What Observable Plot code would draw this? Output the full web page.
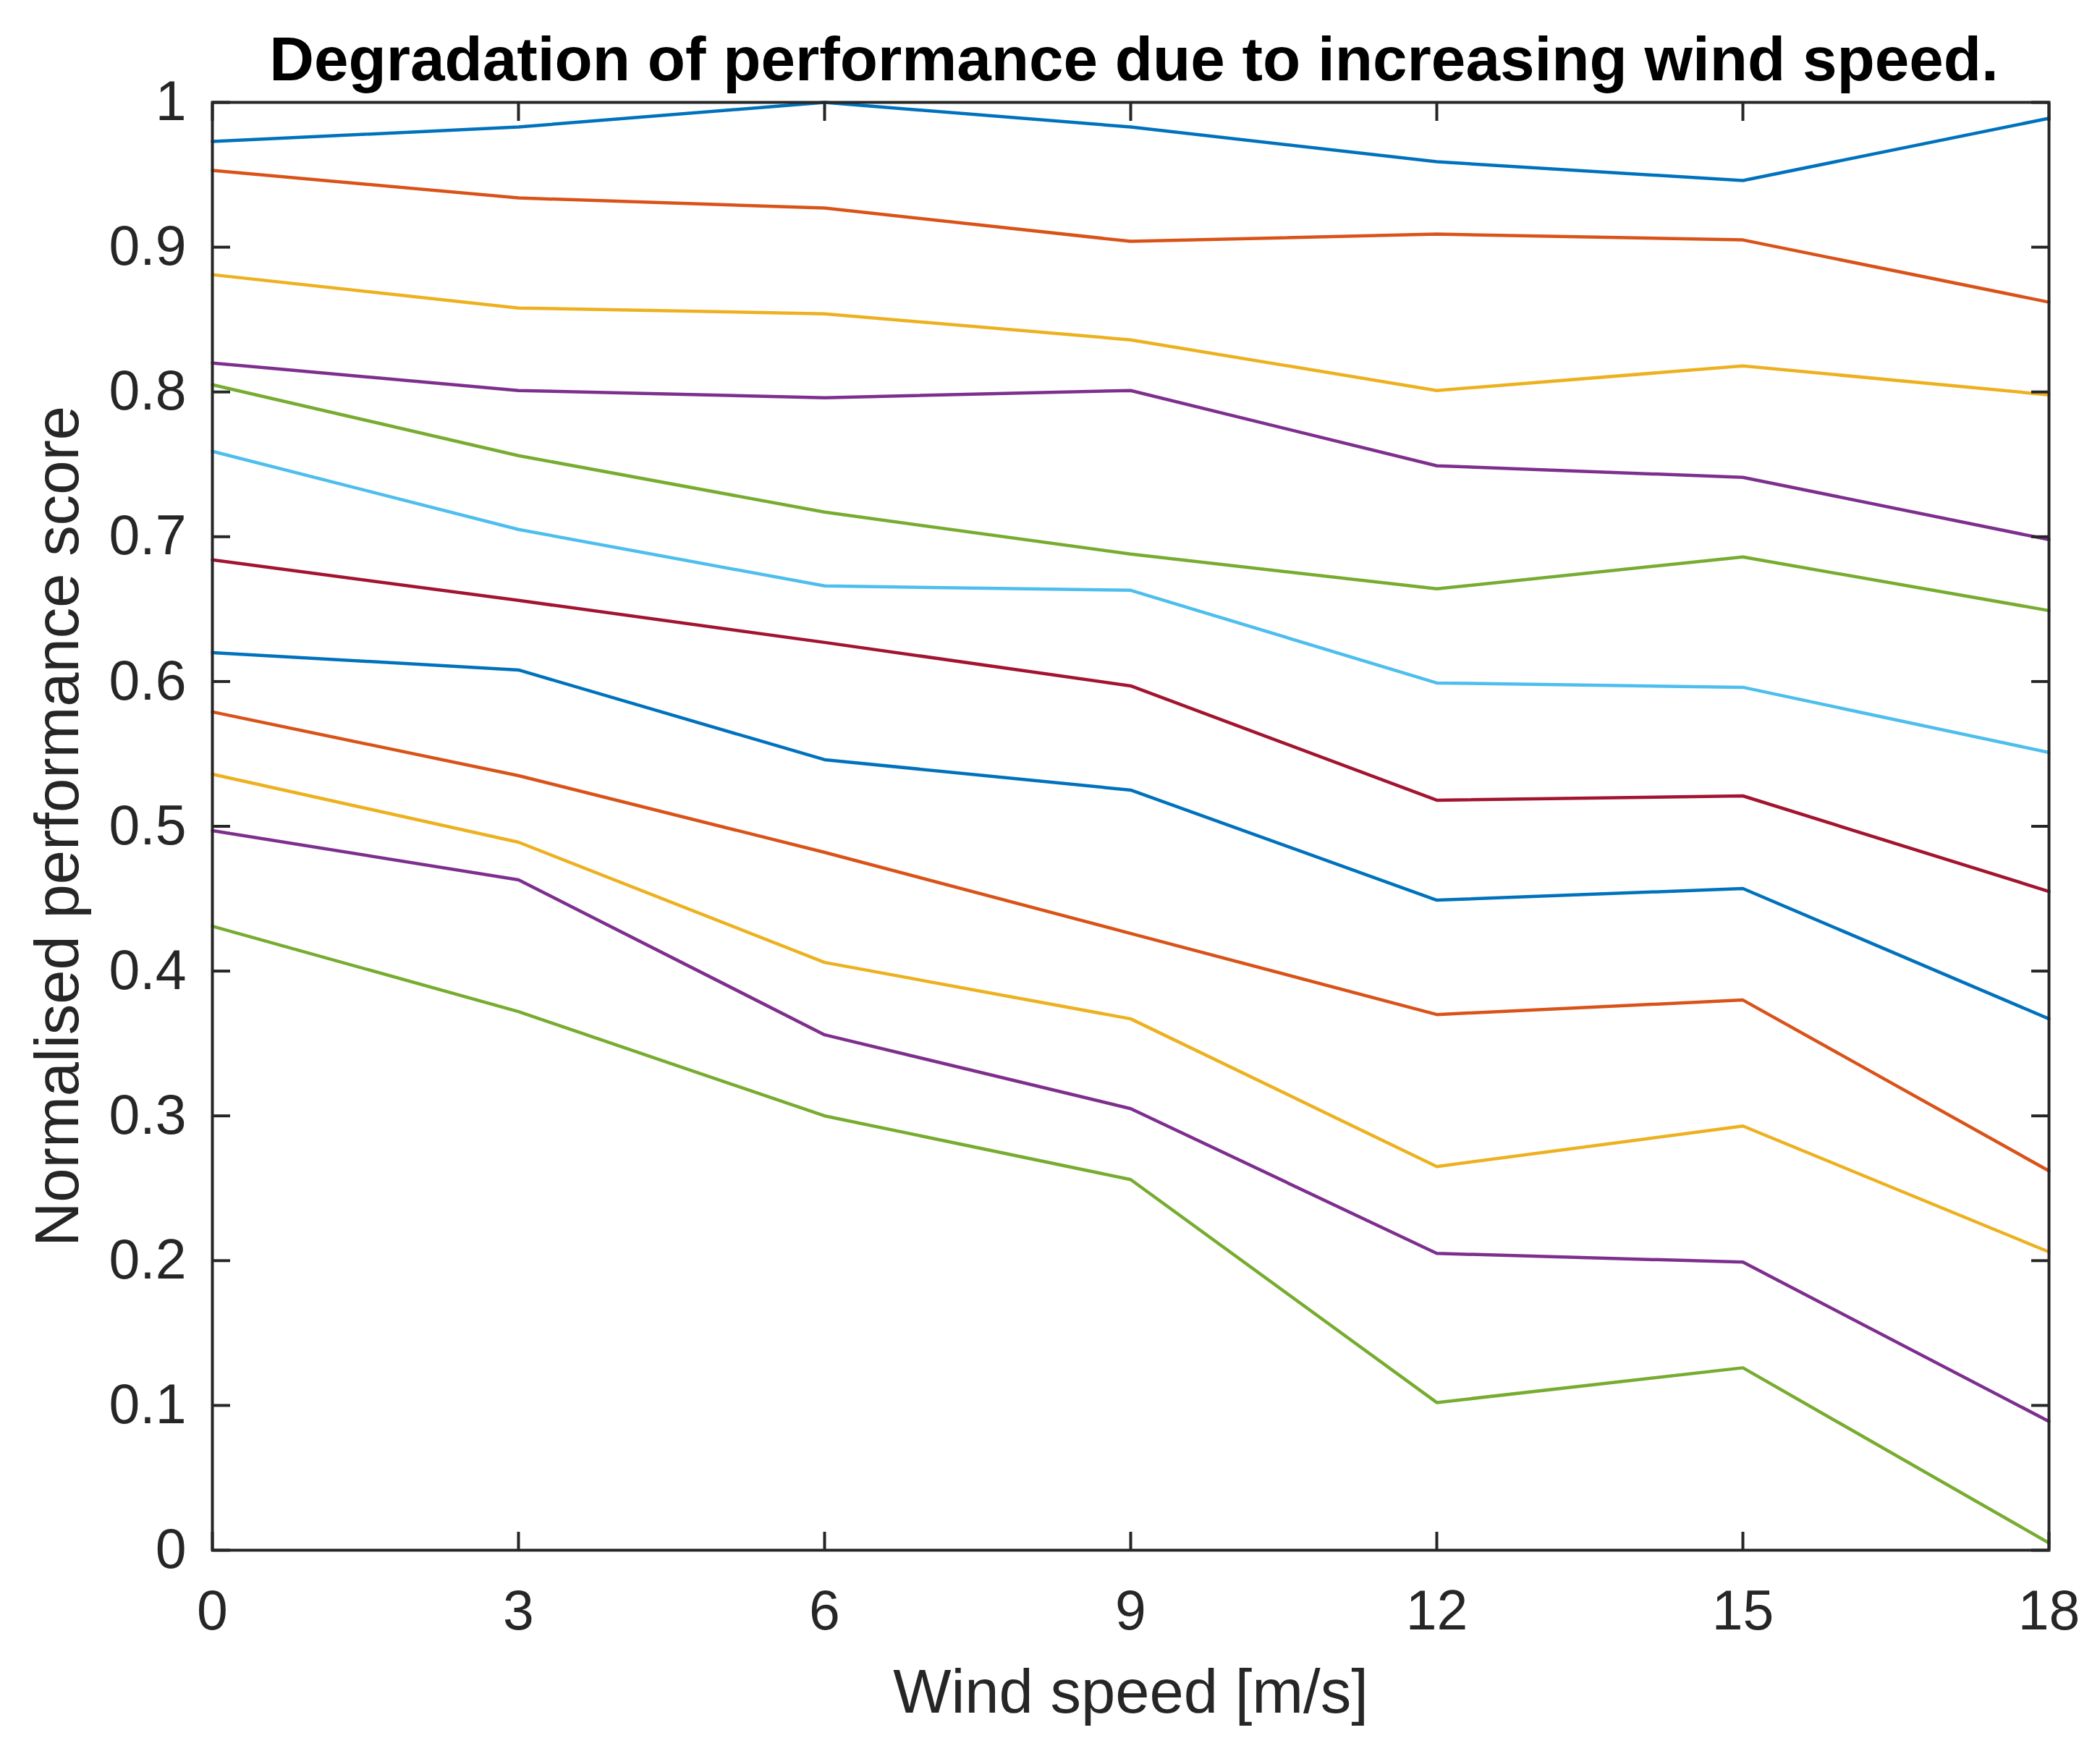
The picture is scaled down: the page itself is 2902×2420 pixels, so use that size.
<!DOCTYPE html>
<html>
<head>
<meta charset="utf-8">
<script src="https://cdn.jsdelivr.net/npm/d3@7"></script>
<script src="https://cdn.jsdelivr.net/npm/@observablehq/plot@0.6"></script>
<style>
  body { margin: 0; background: #fff; font-family: "Liberation Sans", Arial, sans-serif; }
  #title {
    box-sizing: border-box;
    width: 2902px;
    height: 60px;
    padding-top: 39px;
    padding-left: 232px;
    text-align: center;
    font-size: 85.5px;
    line-height: 86px;
    font-weight: bold;
    color: #000;
    white-space: nowrap;
    position: relative;
    z-index: 1;
  }
</style>
</head>
<body>
<div id="title">Degradation of performance due to increasing wind speed.</div>
<div id="chart"></div>
<script>
// wind speeds on the x axis
const windSpeed = [0, 3, 6, 9, 12, 15, 18]

// normalised score, one array per curve (top to bottom)
const s1  = [0.973, 0.983, 1.000, 0.983, 0.959, 0.946, 0.989]
const s2  = [0.953, 0.934, 0.927, 0.904, 0.909, 0.905, 0.862]
const s3  = [0.881, 0.858, 0.854, 0.836, 0.801, 0.818, 0.798]
const s4  = [0.820, 0.801, 0.796, 0.801, 0.749, 0.741, 0.698]
const s5  = [0.805, 0.756, 0.717, 0.688, 0.664, 0.686, 0.649]
const s6  = [0.759, 0.705, 0.666, 0.663, 0.599, 0.596, 0.551]
const s7  = [0.684, 0.656, 0.627, 0.597, 0.518, 0.521, 0.455]
const s8  = [0.620, 0.608, 0.546, 0.525, 0.449, 0.457, 0.367]
const s9  = [0.579, 0.535, 0.482, 0.426, 0.370, 0.380, 0.262]
const s10 = [0.536, 0.489, 0.406, 0.367, 0.265, 0.293, 0.206]
const s11 = [0.497, 0.463, 0.356, 0.305, 0.205, 0.199, 0.089]
const s12 = [0.431, 0.372, 0.300, 0.256, 0.102, 0.126, 0.005]
const series = [s1, s2, s3, s4, s5, s6, s7, s8, s9, s10, s11, s12]

// matlab default colour order, it cycles after 7
const colorOrder = ["#0072BD", "#D95319", "#EDB120", "#7E2F8E", "#77AC30", "#4DBEEE", "#A2142F"]

const xTicks = [0, 3, 6, 9, 12, 15, 18]
const yTicks = [0, 0.1, 0.2, 0.3, 0.4, 0.5, 0.6, 0.7, 0.8, 0.9, 1]

const xLabel = "Wind speed [m/s]"
const yLabel = "Normalised performance score"

// long table for Plot
const rows = []
series.forEach((s, i) => {
  s.forEach((v, j) => rows.push({curve: i, speed: windSpeed[j], score: v, color: colorOrder[i % 7]}))
})

const ink = "#262626"
const fmt = d3.format("~g")

let chart = Plot.plot({
  width: 2902,
  height: 2360,
  marginTop: 81,
  marginBottom: 278,
  marginLeft: 293,
  marginRight: 71,
  x: {domain: [0, 18]},
  y: {domain: [0, 1]},
  color: {type: "identity"},
  style: {
    fontFamily: '"Liberation Sans", Arial, sans-serif',
    background: "transparent",
    color: ink
  },
  marks: [
    Plot.line(rows, {x: "speed", y: "score", z: "curve", stroke: "color", strokeWidth: 4.5, strokeLinejoin: "miter"}),

    // tick labels
    Plot.axisY(yTicks, {anchor: "left", tickSize: 0, tickPadding: 36, fontSize: 77, tickFormat: fmt, label: null, color: ink}),
    Plot.axisX(xTicks, {anchor: "bottom", tickSize: 0, tickPadding: 55, fontSize: 77, tickFormat: fmt, label: null, color: ink}),

    // inward ticks on all four sides
    Plot.axisY(yTicks, {anchor: "left", tickSize: -25, strokeWidth: 4, tickFormat: () => "", label: null, color: ink}),
    Plot.axisY(yTicks, {anchor: "right", tickSize: -25, strokeWidth: 4, tickFormat: () => "", label: null, color: ink}),
    Plot.axisX(xTicks, {anchor: "bottom", tickSize: -25, strokeWidth: 4, tickFormat: () => "", label: null, color: ink}),
    Plot.axisX(xTicks, {anchor: "top", tickSize: -25, strokeWidth: 4, tickFormat: () => "", label: null, color: ink}),

    Plot.frame({stroke: ink, strokeWidth: 4}),

    // axis titles
    Plot.text([xLabel], {text: d => d, frameAnchor: "bottom", dy: 224, lineAnchor: "bottom", fontSize: 85, fill: ink}),
    Plot.text([yLabel], {text: d => d, frameAnchor: "left", textAnchor: "middle", dx: -186, rotate: -90, lineAnchor: "bottom", fontSize: 85, fill: ink})
  ]
})

d3.select('#chart').append(() => chart)
</script>
</body>
</html>
